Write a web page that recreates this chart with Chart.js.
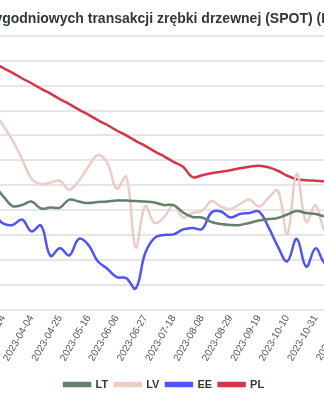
<!DOCTYPE html>
<html>
<head>
<meta charset="utf-8">
<script src="https://cdn.jsdelivr.net/npm/chart.js@4/dist/chart.umd.min.js"></script>
<style>
  html, body { margin: 0; padding: 0; background: #fff; }
  #wrap { position: relative; width: 324px; height: 400px; overflow: hidden; }
  #myChart { position: absolute; top: 0; left: -35px; }
  #title {
    position: absolute; top: 10px; left: -236px; width: 800px;
    text-align: center; white-space: nowrap; line-height: 18px;
    font: bold 14px Arial, "Liberation Sans", sans-serif; color: #2f3a33;
  }
</style>
</head>
<body>
<div id="wrap">
  <canvas id="myChart" width="393" height="400"></canvas>
  <div id="title">Ceny cotygodniowych transakcji zrębki drzewnej (SPOT) (EUR/MWh)</div>
</div>
<script>
'use strict';

// weekly dates (tuesdays)
let weeks = [
  '2023-02-28', '2023-03-07', '2023-03-14', '2023-03-21', '2023-03-28', '2023-04-04',
  '2023-04-11', '2023-04-18', '2023-04-25', '2023-05-02', '2023-05-09', '2023-05-16',
  '2023-05-23', '2023-05-30', '2023-06-06', '2023-06-13', '2023-06-20', '2023-06-27',
  '2023-07-04', '2023-07-11', '2023-07-18', '2023-07-25', '2023-08-01', '2023-08-08',
  '2023-08-15', '2023-08-22', '2023-08-29', '2023-09-05', '2023-09-12', '2023-09-19',
  '2023-09-26', '2023-10-03', '2023-10-10', '2023-10-17', '2023-10-24', '2023-10-31',
  '2023-11-07', '2023-11-14', '2023-11-21'
];

let ltPrices = [34.5, 34.7, 32.8, 30.8, 31.0, 31.7, 30.3, 30.5, 30.5, 32.1, 31.7, 31.4, 31.6,
  31.7, 31.9, 31.9, 31.8, 31.7, 31.5, 31.0, 31.0, 29.5, 28.6, 28.5, 27.6, 27.2, 27.0, 27.0,
  27.4, 27.9, 28.2, 28.4, 29.1, 29.8, 29.4, 29.2, 28.7, 28.6, 28.4];
let lvPrices = [50.5, 49.6, 47.0, 44.0, 40.3, 36.3, 35.2, 35.5, 35.9, 34.1, 35.9, 38.7, 41.0,
  39.5, 34.3, 36.7, 22.5, 30.8, 27.4, 28.6, 31.0, 28.5, 29.4, 29.8, 31.8, 30.7, 30.2, 31.2,
  32.1, 30.7, 32.4, 33.9, 25.2, 37.3, 27.6, 31.0, 25.8, 28.8, 27.0];
let eePrices = [28.5, 29.0, 27.3, 27.0, 28.1, 25.7, 26.9, 20.8, 22.3, 20.9, 24.2, 23.0, 19.7,
  18.2, 16.5, 16.3, 14.2, 21.3, 24.4, 25.0, 25.1, 26.1, 26.4, 26.2, 29.5, 29.7, 28.5, 29.2,
  29.4, 29.7, 26.6, 22.7, 19.7, 24.2, 18.6, 22.3, 19.3, 20.7, 21.0];
let plPrices = [60.8, 59.7, 58.6, 57.6, 56.5, 55.5, 54.4, 53.4, 52.3, 51.3, 50.2, 49.2, 48.1,
  47.1, 46.0, 45.0, 43.9, 42.9, 41.8, 40.8, 39.7, 38.7, 36.6, 37.0, 37.4, 37.7, 38.0, 38.4,
  38.7, 38.9, 38.6, 37.9, 36.9, 36.2, 36.0, 35.9, 35.8, 35.8, 35.8];

let yMin = 10;
let yMax = 65;
let yStep = 5;

let fontFamily = 'Arial, "Liberation Sans", sans-serif';

function makeSeries(label, data, color) {
  return {
    label: label,
    data: data,
    borderColor: color,
    backgroundColor: color,
    borderWidth: 2.5,
    pointRadius: 0,
    tension: 0.4,
    fill: false
  };
}

let ctx = document.getElementById('myChart').getContext('2d');
new Chart(ctx, { // eslint-disable-line
  type: 'line',
  data: {
    labels: weeks,
    datasets: [
      makeSeries('LT', ltPrices, '#62806a'),
      makeSeries('LV', lvPrices, '#ebcdc6'),
      makeSeries('EE', eePrices, '#4f54f5'),
      makeSeries('PL', plPrices, '#d3354b')
    ]
  },
  options: {
    responsive: false,
    animation: false,
    layout: { padding: { top: 36, left: 0, right: 0 } },
    plugins: {
      legend: {
        position: 'bottom',
        fullSize: false,
        labels: {
          boxWidth: 26,
          boxHeight: 3,
          padding: 6.5,
          color: '#2f3a33',
          font: { family: fontFamily, size: 11, weight: 'bold' }
        }
      },
      tooltip: { enabled: false }
    },
    scales: {
      x: {
        grid: { display: false, drawTicks: false },
        border: { display: false },
        afterFit: function (scale) {
          scale.height = 63;
        },
        ticks: {
          autoSkip: false,
          minRotation: 60,
          maxRotation: 60,
          padding: 3.5,
          color: '#555',
          font: { family: fontFamily, size: 10 },
          callback: function (value, index) {
            return (index - 2) % 3 === 0 ? weeks[index] : '';
          }
        }
      },
      y: {
        min: yMin,
        max: yMax,
        grid: { color: '#e6e6e6', lineWidth: 2, drawTicks: false },
        border: { display: false },
        ticks: {
          stepSize: yStep,
          padding: 4,
          color: '#555',
          font: { family: fontFamily, size: 10 }
        }
      }
    }
  }
});
</script>
</body>
</html>
